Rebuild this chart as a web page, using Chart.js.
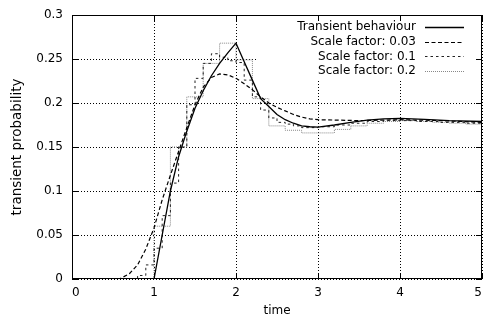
<!DOCTYPE html>
<html>
<head>
<meta charset="utf-8">
<script src="https://cdn.jsdelivr.net/npm/chart.js@4/dist/chart.umd.min.js"></script>
<style>
  html, body { margin: 0; padding: 0; background: #fff; }
  canvas { display: block; }
</style>
</head>
<body>
<canvas id="chart" width="483" height="320"></canvas>
<script>
// tick labels
const xTickLabels = ["0", "1", "2", "3", "4", "5"]
const yTickLabels = ["0", "0.05", "0.1", "0.15", "0.2", "0.25", "0.3"]

// Transient behaviour (exact curve)
const transientT = [0, 1.0, 1.1, 1.2, 1.3, 1.4, 1.5, 1.6, 1.7, 1.8, 1.9, 2.0, 2.1, 2.2, 2.3, 2.4, 2.5, 2.6, 2.7, 2.8, 2.9, 3.0, 3.2, 3.4, 3.6, 3.8, 4.0, 4.3, 4.6, 5.0]
const transientP = [0, 0, 0.05, 0.1, 0.139, 0.168, 0.194, 0.214, 0.231, 0.245, 0.257, 0.268, 0.247, 0.226, 0.205, 0.196, 0.187, 0.181, 0.177, 0.174, 0.173, 0.1725, 0.175, 0.178, 0.1805, 0.182, 0.1825, 0.1815, 0.180, 0.179]

// Scale factor 0.03 (smooth)
const scale003T = [0, 0.58, 0.7, 0.8, 0.9, 1.0, 1.1, 1.2, 1.3, 1.4, 1.5, 1.6, 1.7, 1.8, 1.9, 2.0, 2.1, 2.2, 2.3, 2.4, 2.5, 2.6, 2.7, 2.8, 2.9, 3.0, 3.5, 4.0, 4.5, 5.0]
const scale003P = [0, 0, 0.006, 0.016, 0.034, 0.058, 0.09, 0.118, 0.145, 0.172, 0.198, 0.218, 0.229, 0.233, 0.232, 0.228, 0.222, 0.215, 0.207, 0.200, 0.195, 0.191, 0.187, 0.184, 0.182, 0.181, 0.180, 0.181, 0.180, 0.178]

// Scale factor 0.1 (value held from each start time to the next)
const scale01T = [0, 0.8, 0.9, 1.0, 1.1, 1.2, 1.3, 1.4, 1.5, 1.6, 1.7, 1.8, 1.9, 2.0, 2.1, 2.2, 2.3, 2.4, 2.5, 2.6, 2.7, 2.8, 2.9, 3.0, 3.2, 3.4, 3.6, 3.8, 4.0, 4.2, 4.5, 4.8, 5.0]
const scale01P = [0, 0.004, 0.016, 0.035, 0.072, 0.109, 0.15, 0.198, 0.228, 0.245, 0.256, 0.252, 0.248, 0.246, 0.226, 0.207, 0.192, 0.183, 0.178, 0.176, 0.174, 0.172, 0.172, 0.173, 0.175, 0.177, 0.179, 0.180, 0.180, 0.179, 0.178, 0.177, 0.177]

// Scale factor 0.2 (value held from each start time to the next)
const scale02T = [0, 1.0, 1.2, 1.4, 1.6, 1.8, 2.0, 2.2, 2.4, 2.6, 2.8, 3.0, 3.2, 3.4, 3.6, 3.8, 4.0, 4.2, 4.4, 4.6, 4.8, 5.0]
const scale02P = [0, 0.06, 0.15, 0.207, 0.245, 0.268, 0.249, 0.205, 0.174, 0.169, 0.166, 0.166, 0.170, 0.174, 0.177, 0.179, 0.180, 0.179, 0.178, 0.177, 0.176, 0.176]

const FONT = "'DejaVu Sans', sans-serif"
const pts = (xs, ys) => xs.map((x, i) => ({ x, y: ys[i] }))
// step series: hold each value until the next start time
const stepPts = (xs, ys) => {
  const out = []
  xs.forEach((x, i) => {
    if (i > 0) out.push({ x, y: ys[i - 1] })
    out.push({ x, y: ys[i] })
  })
  return out
}

// gnuplot-style key in the upper right corner of the plot
const keyPlugin = {
  id: "key",
  beforeDatasetsDraw(chart) {
    const { ctx, chartArea: a } = chart
    ctx.save()
    ctx.fillStyle = "#fff"
    ctx.fillRect(a.right - 224, a.top + 1, 223, 63)
    ctx.font = "12px " + FONT
    ctx.textAlign = "right"
    ctx.textBaseline = "middle"
    chart.data.datasets.forEach((ds, i) => {
      const y = a.top + 12 + i * 14.7
      ctx.fillStyle = "#000"
      ctx.fillText(ds.label, a.right - 66, y)
      ctx.strokeStyle = ds.borderColor
      ctx.lineWidth = ds.borderWidth
      ctx.setLineDash(ds.borderDash || [])
      ctx.beginPath()
      ctx.moveTo(a.right - 57, Math.round(y) + 0.5)
      ctx.lineTo(a.right - 18, Math.round(y) + 0.5)
      ctx.stroke()
    })
    ctx.restore()
  },
  afterDraw(chart) {
    // frame + inward ticks on all four sides
    const { ctx, chartArea: a, scales } = chart
    ctx.save()
    ctx.strokeStyle = "#000"
    ctx.lineWidth = 1
    ctx.setLineDash([])
    ctx.strokeRect(a.left + 0.5, a.top + 0.5, a.right - a.left - 1, a.bottom - a.top - 1)
    ctx.beginPath()
    scales.y.ticks.forEach(t => {
      const y = Math.round(scales.y.getPixelForValue(t.value)) + 0.5
      ctx.moveTo(a.left, y); ctx.lineTo(a.left + 6, y)
      ctx.moveTo(a.right, y); ctx.lineTo(a.right - 6, y)
    })
    scales.x.ticks.forEach(t => {
      const x = Math.round(scales.x.getPixelForValue(t.value)) + 0.5
      ctx.moveTo(x, a.bottom); ctx.lineTo(x, a.bottom - 6)
      ctx.moveTo(x, a.top); ctx.lineTo(x, a.top + 6)
    })
    ctx.stroke()
    ctx.restore()
  }
}

new Chart(document.getElementById("chart"), {
  type: "line",
  data: {
    datasets: [
      { label: "Transient behaviour", data: pts(transientT, transientP),
        borderColor: "#000", borderWidth: 1.3 },
      { label: "Scale factor: 0.03", data: pts(scale003T, scale003P),
        borderColor: "#000", borderWidth: 1.2, borderDash: [4, 2.5] },
      { label: "Scale factor: 0.1", data: stepPts(scale01T, scale01P),
        borderColor: "#222", borderWidth: 1, borderDash: [2.5, 3] },
      { label: "Scale factor: 0.2", data: stepPts(scale02T, scale02P),
        borderColor: "#888", borderWidth: 1, borderDash: [1, 1] }
    ]
  },
  options: {
    responsive: false,
    animation: false,
    devicePixelRatio: 1,
    layout: { padding: { top: 15, right: 1, left: 0, bottom: 0 } },
    elements: { point: { radius: 0 }, line: { tension: 0, fill: false } },
    plugins: { legend: { display: false }, tooltip: { enabled: false } },
    scales: {
      x: {
        type: "linear", min: 0, max: 5,
        afterFit: s => { s.height = 41; s.paddingLeft = 0; s.paddingRight = 0 },
        grid: { color: "#000", lineWidth: 1, drawTicks: false },
        border: { display: false, dash: [1, 2] },
        ticks: { stepSize: 1, padding: 7, color: "#000", maxRotation: 0, align: "inner",
                 font: { family: FONT, size: 12 },
                 callback: (v, i) => xTickLabels[i] },
        title: { display: true, text: "time", color: "#000",
                 font: { family: FONT, size: 12 }, padding: { top: 0, bottom: 2 } }
      },
      y: {
        type: "linear", min: 0, max: 0.3,
        afterFit: s => { s.width = 72; s.paddingTop = 0; s.paddingBottom = 0 },
        grid: { color: "#000", lineWidth: 1, drawTicks: false },
        border: { display: false, dash: [1, 2] },
        ticks: { stepSize: 0.05, padding: 9, color: "#000",
                 font: { family: FONT, size: 12 },
                 callback: (v, i) => yTickLabels[i] },
        title: { display: true, text: "transient probability", color: "#000",
                 font: { family: FONT, size: 13.5 }, padding: { top: 9, bottom: 0 } }
      }
    }
  },
  plugins: [keyPlugin]
})
</script>
</body>
</html>
